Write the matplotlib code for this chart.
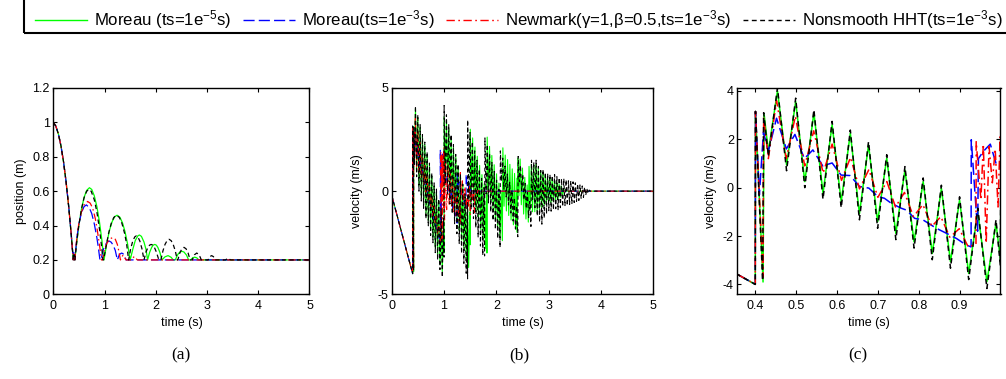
import numpy as np
import matplotlib
matplotlib.use('Agg')
import matplotlib.pyplot as plt
from matplotlib.lines import Line2D
from matplotlib.patches import Rectangle
from matplotlib.ticker import FuncFormatter

plt.rcParams['font.family'] = ['Liberation Sans', 'DejaVu Sans']
plt.rcParams['mathtext.fontset'] = 'custom'
plt.rcParams['mathtext.rm'] = 'Liberation Sans'
plt.rcParams['mathtext.it'] = 'Liberation Sans:italic'

# ---------------- position (a) ----------------
green_pos_t = [0, 0.05, 0.1, 0.15, 0.2, 0.25, 0.3, 0.35, 0.39, 0.405, 0.42, 0.46, 0.5, 0.55, 0.6, 0.65,
               0.705, 0.75, 0.8, 0.85, 0.9, 0.95, 0.99, 1.05, 1.1, 1.15, 1.2, 1.245, 1.3, 1.35, 1.4, 1.45,
               1.5, 1.55, 1.6, 1.65, 1.68, 1.72, 1.77, 1.81, 1.84, 1.88, 1.92, 1.95, 1.98, 2.01, 2.04, 2.08,
               2.12, 2.18, 2.24, 2.3, 2.34, 2.38, 2.43, 2.47, 2.51, 2.55, 2.6, 2.64, 2.68, 2.72, 2.76, 2.8,
               2.84, 5.0]
green_pos = [1.0, 0.978, 0.932, 0.863, 0.77, 0.653, 0.512, 0.348, 0.2, 0.23, 0.2, 0.31, 0.403, 0.496, 0.563,
             0.604, 0.62, 0.61, 0.573, 0.511, 0.423, 0.31, 0.2, 0.308, 0.376, 0.424, 0.452, 0.46, 0.448, 0.416,
             0.364, 0.292, 0.2, 0.26, 0.313, 0.34, 0.345, 0.337, 0.304, 0.26, 0.2, 0.244, 0.273, 0.286, 0.29,
             0.286, 0.273, 0.244, 0.2, 0.218, 0.225, 0.215, 0.2, 0.2, 0.232, 0.246, 0.25, 0.246, 0.228, 0.2,
             0.2, 0.212, 0.216, 0.212, 0.2, 0.2]

blue_pos_t = [0, 0.05, 0.1, 0.15, 0.2, 0.25, 0.3, 0.35, 0.39, 0.405, 0.42, 0.46, 0.5, 0.55, 0.6, 0.645, 0.7,
              0.75, 0.8, 0.85, 0.88, 0.91, 0.93, 0.97, 1.01, 1.05, 1.09, 1.13, 1.17, 1.21, 1.25, 1.29, 1.335,
              1.38, 1.42, 5.0]
blue_pos = [1.0, 0.978, 0.932, 0.863, 0.77, 0.653, 0.512, 0.348, 0.2, 0.25, 0.2, 0.33, 0.41, 0.475, 0.51, 0.52,
            0.505, 0.47, 0.41, 0.33, 0.27, 0.2, 0.2, 0.255, 0.285, 0.303, 0.31, 0.303, 0.285, 0.255, 0.2, 0.232,
            0.24, 0.232, 0.2, 0.2]

red_pos_t = [0, 0.05, 0.1, 0.15, 0.2, 0.25, 0.3, 0.35, 0.39, 0.405, 0.42, 0.46, 0.5, 0.55, 0.6, 0.67, 0.72,
             0.77, 0.82, 0.86, 0.9, 0.94, 0.96, 1.0, 1.05, 1.1, 1.16, 1.21, 1.25, 1.28, 1.31, 1.36, 1.42, 1.52,
             1.58, 1.64, 5.0]
red_pos = [1.0, 0.978, 0.932, 0.863, 0.77, 0.653, 0.512, 0.348, 0.2, 0.24, 0.2, 0.33, 0.415, 0.48, 0.52, 0.54,
           0.53, 0.5, 0.44, 0.37, 0.29, 0.2, 0.2, 0.26, 0.3, 0.322, 0.33, 0.32, 0.29, 0.25, 0.2, 0.228, 0.2, 0.2,
           0.22, 0.2, 0.2]

black_pos_t = [0, 0.05, 0.1, 0.15, 0.2, 0.25, 0.3, 0.35, 0.39, 0.405, 0.42, 0.46, 0.5, 0.55, 0.6, 0.65, 0.695,
               0.74, 0.8, 0.85, 0.9, 0.94, 0.97, 0.98, 1.03, 1.08, 1.13, 1.18, 1.235, 1.29, 1.34, 1.39, 1.43,
               1.47, 1.51, 1.55, 1.59, 1.62, 1.65, 1.69, 1.73, 1.77, 1.81, 1.85, 1.88, 1.91, 1.94, 1.97, 2.01,
               2.06, 2.10, 2.14, 2.18, 2.22, 2.26, 2.30, 2.34, 2.38, 2.42, 2.43, 2.47, 2.51, 2.55, 2.59, 2.63,
               2.67, 2.71, 2.755, 2.80, 2.845, 2.89, 3.02, 3.055, 3.09, 3.125, 3.16, 3.36, 3.41, 3.46, 5.0]
black_pos = [1.0, 0.978, 0.932, 0.863, 0.77, 0.653, 0.512, 0.348, 0.2, 0.23, 0.2, 0.311, 0.404, 0.496, 0.561,
             0.599, 0.61, 0.599, 0.55, 0.48, 0.382, 0.284, 0.2, 0.2, 0.278, 0.356, 0.412, 0.447, 0.46, 0.447,
             0.412, 0.356, 0.295, 0.2, 0.265, 0.309, 0.334, 0.34, 0.334, 0.309, 0.265, 0.2, 0.247, 0.275, 0.286,
             0.29, 0.286, 0.275, 0.247, 0.2, 0.2, 0.253, 0.29, 0.312, 0.32, 0.312, 0.29, 0.253, 0.2, 0.2, 0.241,
             0.265, 0.273, 0.265, 0.241, 0.2, 0.2, 0.23, 0.24, 0.23, 0.2, 0.2, 0.219, 0.225, 0.219, 0.2, 0.2,
             0.21, 0.2, 0.2]

# ---------------- velocity (b), (c) ----------------
# oscillating parts: (t_start, t_end, extrema, evenly spaced in time)
green_vel_segs = [
    (0.0, 0.40, [-0.2, -4.0]),
    (0.4005, 0.419, [3.15, -3.9]),
    (0.4215, 0.4215, [3.05]),
    (0.432, 0.989, [1.49, 4.0, 0.94, 3.56, 0.25, 3.1, -0.23, 2.6, -0.58, 2.25, -1.08, 1.77, -1.41, 1.22,
                    -1.89, 0.73, -2.24, 0.25, -2.72, -0.03, -3.06, -0.51, -3.55, -0.99, -3.89, -1.47]),
    (1.0, 1.0, [-3.0]),
    (1.002, 1.493, [3.6, 0.75, 3.43, 0.31, 2.99, -0.14, 2.54, -0.58, 2.1, -1.03, 1.65, -1.47, 1.2, -1.92,
                    0.76, -2.37, 0.31, -2.81, -0.13, -3.26, -0.58, -3.7, -1.03]),
    (1.5, 1.5, [-2.6]),
    (1.502, 1.814, [3.0, -0.09, 2.58, -0.54, 2.14, -0.99, 1.69, -1.43, 1.25, -1.88, 0.8, -2.32, 0.35, -2.77,
                    -0.09]),
    (1.82, 1.82, [-3.0]),
    (1.825, 2.115, [2.62, 0.0, 2.17, -0.45, 1.73, -0.9, 1.28, -1.34, 0.84, -1.79, 0.39, -2.23, -0.06, -2.4]),
    (2.125, 2.393, [2.1, -0.73, 1.75, -0.96, 1.53, -1.18, 1.3, -1.4, 1.08, -1.63, 0.86, -1.85, 0.63]),
    (2.40, 2.40, [-2.0]),
    (2.41, 2.611, [1.6, -0.22, 1.56, -0.66, 1.12, -1.11, 0.67, -1.35, 0.3, -1.5]),
    (2.625, 3.31, [1.2, -0.9, 1.3, -1.0, 1.25, -1.0, 1.3, -0.95, 1.1, -0.9, 1.0, -0.8, 0.9, -0.7, 0.8, -0.6,
                   0.7, -0.55, 0.65, -0.55, 0.6, -0.5, 0.55, -0.45, 0.45, -0.4, 0.35, -0.3, 0.25, -0.2, 0.1,
                   0.0]),
    (3.4, 5.0, [0.0, 0.0]),
]

black_vel_segs = [
    (0.0, 0.40, [-0.2, -4.0]),
    (0.4005, 0.418, [3.15, -3.85]),
    (0.4205, 0.4205, [3.1]),
    (0.432, 0.989, [1.3, 4.12, 0.7, 3.7, 0.0, 3.22, -0.48, 2.74, -0.83, 2.38, -1.33, 1.9, -1.68, 1.36, -2.15,
                    0.87, -2.5, 0.4, -2.98, 0.1, -3.33, -0.38, -3.8, -0.85, -4.17, -1.33]),
    (0.9995, 0.9995, [-3.2]),
    (1.002, 1.446, [4.15, 0.34, 3.7, -0.14, 3.22, -0.62, 2.74, -1.1, 2.26, -1.58, 1.78, -2.06, 1.3, -2.54,
                    0.82, -3.02, 0.34, -3.5, -0.14, -3.98, -0.62]),
    (1.45, 1.45, [-4.25]),
    (1.452, 1.763, [3.45, -0.44, 2.84, -0.89, 2.39, -1.33, 1.95, -1.77, 1.5, -2.22, 1.06, -2.66, 0.62, -3.11,
                    0.17]),
    (1.775, 1.775, [-3.14]),
    (1.782, 2.071, [2.58, -0.13, 2.25, -0.57, 1.82, -1.0, 1.39, -1.42, 0.95, -1.86, 0.53, -2.29, 0.09, -2.72]),
    (2.077, 2.41, [1.95, 0.49, 1.6, 0.1, 1.21, -0.28, 0.83, -0.67, 0.43, -1.06, 0.05, -1.45, -0.33, -1.83,
                   -0.72, -2.21]),
    (2.417, 2.661, [1.68, 0.46, 1.25, 0.03, 0.81, -0.41, 0.37, -0.84, -0.06, -1.28, -0.5, -1.71]),
    (2.672, 3.797, [1.5, -0.4, 1.4, -0.8, 1.5, -1.2, 1.2, -1.5, 1.0, -1.6, 1.05, -1.3, 0.9, -1.1, 0.85, -0.95,
                    0.8, -0.97, 0.75, -0.9, 0.8, -0.85, 0.7, -0.9, 0.65, -0.8, 0.6, -0.75, 0.6, -0.7, 0.55,
                    -0.7, 0.5, -0.65, 0.5, -0.6, 0.45, -0.55, 0.4, -0.5, 0.35, -0.45, 0.3, -0.35, 0.25, -0.3,
                    0.2, -0.2, 0.12, -0.12, 0.05, 0.0]),
    (3.85, 5.0, [0.0, 0.0]),
]

blue_vel_t = [0, 0.4, 0.4005, 0.41, 0.42, 0.432, 0.452, 0.476, 0.497, 0.52, 0.541, 0.565, 0.588, 0.61, 0.632,
              0.655, 0.678, 0.70, 0.716, 0.733, 0.757, 0.77, 0.79, 0.81, 0.843, 0.868, 0.892, 0.916, 0.928,
              0.9285, 0.944, 0.946, 0.958, 0.975, 0.99, 1.01, 1.03, 1.055, 1.075, 1.10, 1.12, 1.145, 1.165,
              1.19, 1.21, 1.235, 1.25, 1.252, 1.275, 1.30, 1.32, 1.345, 1.365, 1.39, 1.415, 1.42, 1.422, 1.445,
              1.465, 1.49, 1.51, 1.535, 1.56, 1.60, 1.65, 5.0]
blue_vel = [-0.2, -4.0, 3.15, -0.3, 2.3, 1.5, 2.87, 1.6, 2.2, 1.2, 1.56, 0.9, 1.02, 0.52, 0.5, 0.05, -0.02,
            -0.37, -0.44, -0.65, -0.85, -0.93, -1.27, -1.33, -1.68, -1.89, -2.1, -2.37, -2.45, 1.98, -1.8, 1.2,
            1.5, 1.8, 0.95, 1.1, 0.4, 0.75, 0.0, 0.3, -0.4, -0.1, -0.8, -0.55, -1.2, -1.0, -1.55, 0.85, 0.3,
            0.45, -0.15, 0.0, -0.55, -0.45, -0.85, -0.9, 0.8, 0.2, 0.3, -0.2, 0.1, -0.15, 0.0, -0.05, 0.0, 0.0]

red_vel_t = [0, 0.4, 0.4005, 0.419, 0.4205, 0.432, 0.452, 0.476, 0.498, 0.521, 0.543, 0.566, 0.588, 0.611,
             0.633, 0.655, 0.678, 0.70, 0.722, 0.743, 0.765, 0.787, 0.81, 0.832, 0.854, 0.876, 0.899, 0.921,
             0.94, 0.9405, 0.952, 0.958, 0.965, 0.972, 0.98, 0.987, 0.994, 0.999, 1.01, 1.03, 1.05, 1.075,
             1.10, 1.12, 1.145, 1.165, 1.19, 1.21, 1.235, 1.255, 1.28, 1.30, 1.31, 1.312, 1.33, 1.35, 1.375,
             1.40, 1.42, 1.445, 1.465, 1.49, 1.50, 1.52, 1.545, 1.56, 1.58, 1.60, 1.625, 1.65, 1.70, 1.75, 5.0]
red_vel = [-0.2, -4.0, 3.15, -3.7, 2.9, 1.2, 3.6, 1.2, 2.95, 0.9, 2.35, 0.6, 1.8, 0.3, 1.25, -0.05, 0.75,
           -0.4, 0.25, -0.8, -0.2, -1.2, -0.7, -1.6, -1.2, -2.05, -1.7, -2.45, -2.35, 1.9, -0.5, 1.8, -2.3, 1.7,
           0.2, 1.6, -0.8, 2.1, -1.4, 1.5, -0.9, 1.3, -0.7, 1.0, -0.8, 0.6, -1.0, 0.2, -1.2, -0.2, -1.4, -0.6,
           -1.6, 0.9, -0.2, 0.5, -0.6, 0.2, -0.9, -0.1, -0.8, 0.3, -1.13, 0.0, -0.4, 0.35, -1.05, 0.1, -0.3,
           0.05, -0.05, 0.0, 0.0]

labels = ['Moreau (ts=1e$^{-5}$s)', 'Moreau(ts=1e$^{-3}$s)',
          'Newmark(\u03b3=1,\u03b2=0.5,ts=1e$^{-3}$s)', 'Nonsmooth HHT(ts=1e$^{-3}$s)']
panel_tags = ['(a)', '(b)', '(c)']


def build(segs):
    t, v = [], []
    for t0, t1, vals in segs:
        t.extend(np.linspace(t0, t1, len(vals)))
        v.extend(vals)
    return np.array(t), np.array(v)


gvt, gv = build(green_vel_segs)
kvt, kv = build(black_vel_segs)

styles = [dict(color=(0, 1, 0), ls='-'),
          dict(color=(0, 0, 1), ls=(0, (8, 3))),
          dict(color=(1, 0, 0), ls=(0, (6, 2.5, 1.2, 2.5))),
          dict(color='k', ls=(0, (3.5, 2.5)))]

W, H = 1006, 379
fig = plt.figure(figsize=(W / 100, H / 100), dpi=100)
bot, hgt = 1 - 294.3 / H, (294.3 - 88) / H
ax_a = fig.add_axes([53.3 / W, bot, 256.2 / W, hgt])
ax_b = fig.add_axes([391.7 / W, bot, 261.6 / W, hgt])
ax_c = fig.add_axes([737.3 / W, bot, 263.2 / W, hgt])

fmt = FuncFormatter(lambda x, p: '%g' % x)
for ax in (ax_a, ax_b, ax_c):
    ax.tick_params(direction='in', top=True, right=True, length=3, width=0.8, labelsize=9)
    ax.tick_params(axis='y', pad=2.5)
    ax.tick_params(axis='x', pad=4)
    ax.xaxis.set_major_formatter(fmt)
    ax.yaxis.set_major_formatter(fmt)
    for s in ax.spines.values():
        s.set_linewidth(1.0)

pos = [(green_pos_t, green_pos), (blue_pos_t, blue_pos), (red_pos_t, red_pos), (black_pos_t, black_pos)]
for (t, y), st in zip(pos, styles):
    ax_a.plot(t, y, lw=0.9, **st)
ax_a.set_xlim(0, 5)
ax_a.set_ylim(0, 1.2)
ax_a.set_yticks(np.arange(0, 1.21, 0.2))
ax_a.set_xticks(range(6))
ax_a.set_xlabel('time (s)', fontsize=9)
ax_a.set_ylabel('position (m)', fontsize=9)

vel = [(gvt, gv), (blue_vel_t, blue_vel), (red_vel_t, red_vel), (kvt, kv)]
for ax, lw in ((ax_b, 0.8), (ax_c, 1.1)):
    for (t, v), st in zip(vel, styles):
        ax.plot(t, v, lw=lw, **st)
    ax.set_xlabel('time (s)', fontsize=9)
ax_b.set_xlim(0, 5)
ax_b.set_ylim(-5, 5)
ax_b.set_yticks([-5, 0, 5])
ax_b.set_xticks(range(6))
ax_b.set_ylabel('velocity (m/s)', fontsize=9, labelpad=10)

ax_c.set_xlim(0.356, 1.0)
ax_c.set_ylim(-4.41, 4.12)
ax_c.set_xticks([0.4, 0.5, 0.6, 0.7, 0.8, 0.9])
ax_c.set_yticks([-4, -2, 0, 2, 4])
ax_c.set_ylabel('velocity (m/s)', fontsize=9)

# legend box: left edge at x=24 px, bottom at y=33 px, top and right run off the figure
fig.patches.append(Rectangle((24 / W, 1 - 33 / H), 1.0, 60 / H, transform=fig.transFigure,
                             fill=False, edgecolor='k', linewidth=1.5))
handles = [Line2D([], [], lw=1.0, **st) for st in styles]
fig.legend(handles, labels, loc='lower left', bbox_to_anchor=(35 / W, 1 - 31.5 / H), ncol=4,
           fontsize=12.1, handlelength=3.1, handletextpad=0.42, columnspacing=0.68, borderpad=0,
           borderaxespad=0, frameon=False)

for tag, xc in zip(panel_tags, [181, 519, 858]):
    fig.text(xc / W, 1 - 355 / H, tag, ha='center', va='center', family='Liberation Serif', fontsize=12.5)

fig.savefig('out.png', dpi=100)
